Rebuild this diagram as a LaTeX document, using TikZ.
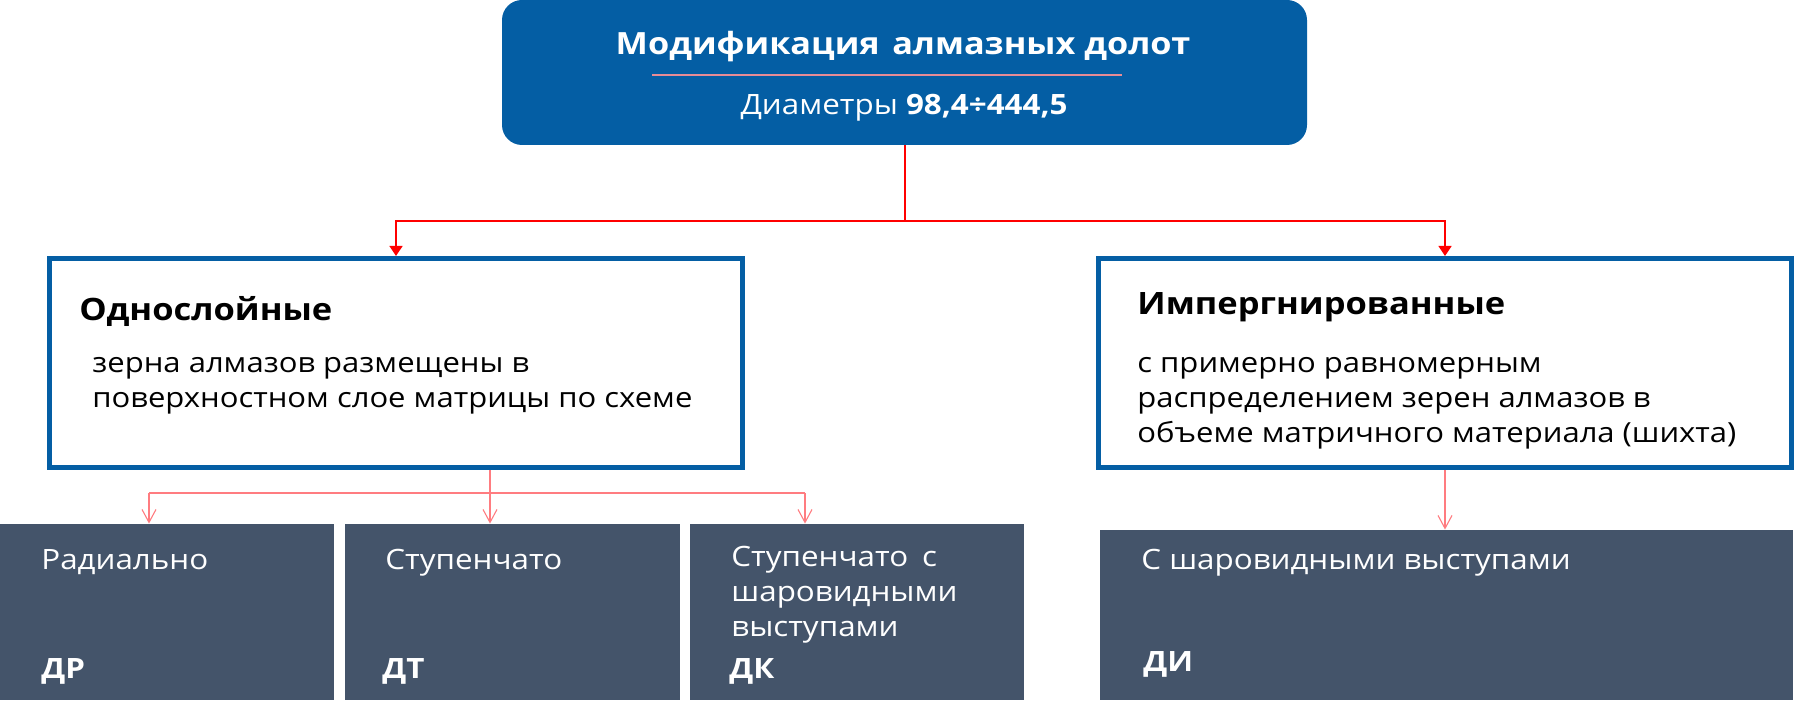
\documentclass[tikz,border=0pt]{standalone}
\usepackage{fontspec}
\setmainfont{Open Sans}[FakeStretch=1.12]
\usetikzlibrary{arrows.meta}
\definecolor{hdrblue}{RGB}{4,94,164}
\definecolor{slate}{RGB}{68,84,106}
\definecolor{conred}{RGB}{255,0,0}
\definecolor{lightred}{RGB}{255,124,128}
\definecolor{sepline}{RGB}{232,140,150}
\begin{document}
\begin{tikzpicture}[x=0.5pt,y=-0.5pt,
  hdr/.style={fill=hdrblue, rounded corners=10pt, inner sep=0pt, minimum width=402.5pt, minimum height=72.5pt},
  catbox/.style={draw=hdrblue, line width=2.5pt, fill=white, inner sep=0pt, minimum width=346.5pt, minimum height=104.5pt},
  typebox/.style={fill=slate, inner sep=0pt, minimum height=88pt},
  txt/.style={inner sep=0pt, anchor=base west},
  ctxt/.style={inner sep=0pt, anchor=base},
  hdrtitle/.style={font=\bfseries\fontsize{15.3pt}{18pt}\selectfont, text=white},
  hdrsub/.style={font=\fontsize{14pt}{17pt}\selectfont, text=white},
  cattitle/.style={font=\bfseries\fontsize{15.4pt}{19pt}\selectfont, text=black},
  catbody/.style={font=\fontsize{13.85pt}{17.5pt}\selectfont, text=black},
  typetxt/.style={font=\fontsize{14pt}{17.5pt}\selectfont, text=white},
  typecode/.style={font=\bfseries\fontsize{14pt}{17pt}\selectfont, text=white},
  redline/.style={draw=conred, line width=0.7pt},
  lredline/.style={draw=lightred, line width=0.55pt},
  redtip/.style={-{Triangle[width=6.5pt,length=5pt]}},
  barbtip/.style={-{Straight Barb[width=7pt,length=6.5pt]}}
]
\useasboundingbox (0,0) rectangle (1794,704);

% header
\node[hdr] (top) at (904.5,72.5) {};
\node[ctxt, hdrtitle] (ttl) at (903,55) {Модификация\hspace{0.12em} алмазных долот};
\draw[sepline, line width=0.8pt] (652,75) -- (1122,75);
\node[ctxt, hdrsub] (dia) at (904,115) {Диаметры \textbf{98,4÷444,5}};

% category boxes
\node[catbox] (one) at (396,363) {};
\node[catbox] (imp) at (1445,363) {};

\node[txt, cattitle] (oneT) at (79,321) {Однослойные};
\node[txt, catbody] (oneA) at (92,373) {зерна алмазов размещены в};
\node[txt, catbody] (oneB) at (92,408) {поверхностном слое матрицы по схеме};

\node[txt, cattitle] (impT) at (1137,315) {Импергнированные};
\node[txt, catbody] (impA) at (1137,373) {с примерно равномерным};
\node[txt, catbody] (impB) at (1137,408) {распределением зерен алмазов в};
\node[txt, catbody] (impC) at (1137,443) {объеме матричного материала (шихта)};

% type boxes
\node[typebox, minimum width=166.75pt] (dr) at (166.75,612) {};
\node[typebox, minimum width=167.5pt] (dt) at (512.5,612) {};
\node[typebox, minimum width=167pt] (dk) at (857,612) {};
\node[typebox, minimum width=346.5pt, minimum height=85pt] (di) at (1446.5,615) {};

\node[txt, typetxt] (drA) at (41,570) {Радиально};
\node[txt, typecode] (drB) at (41,679) {ДР};
\node[txt, typetxt] (dtA) at (385,570) {Ступенчато};
\node[txt, typecode] (dtB) at (382,679) {ДТ};
\node[txt, typetxt] (dkA) at (731,567) {Ступенчато\hspace{0.2em} с};
\node[txt, typetxt] (dkB) at (731,602) {шаровидными};
\node[txt, typetxt] (dkC) at (731,637) {выступами};
\node[txt, typecode] (dkD) at (729,679) {ДК};
\node[txt, typetxt] (diA) at (1141,570) {С шаровидными выступами};
\node[txt, typecode] (diB) at (1143,672) {ДИ};

% connectors top
\coordinate (j1) at (905,221);
\draw[redline] (top.south -| j1) -- (j1);
\draw[redline, redtip] (j1) -| (one.north);
\draw[redline, redtip] (j1) -| (imp.north);

% connectors lower left
\coordinate (k0) at (490,493);
\coordinate (kL) at (149,493);
\coordinate (kR) at (805,493);
\draw[lredline] (one.south -| k0) -- (k0);
\draw[lredline, barbtip] (k0) -- (dt.north -| k0);
\draw[lredline] (kL) -- (kR);
\draw[lredline, barbtip] (kL) -- (dr.north -| kL);
\draw[lredline, barbtip] (kR) -- (dk.north -| kR);

% connector lower right
\draw[lredline, barbtip] (imp.south) -- (di.north -| imp.south);
\end{tikzpicture}
\end{document}
